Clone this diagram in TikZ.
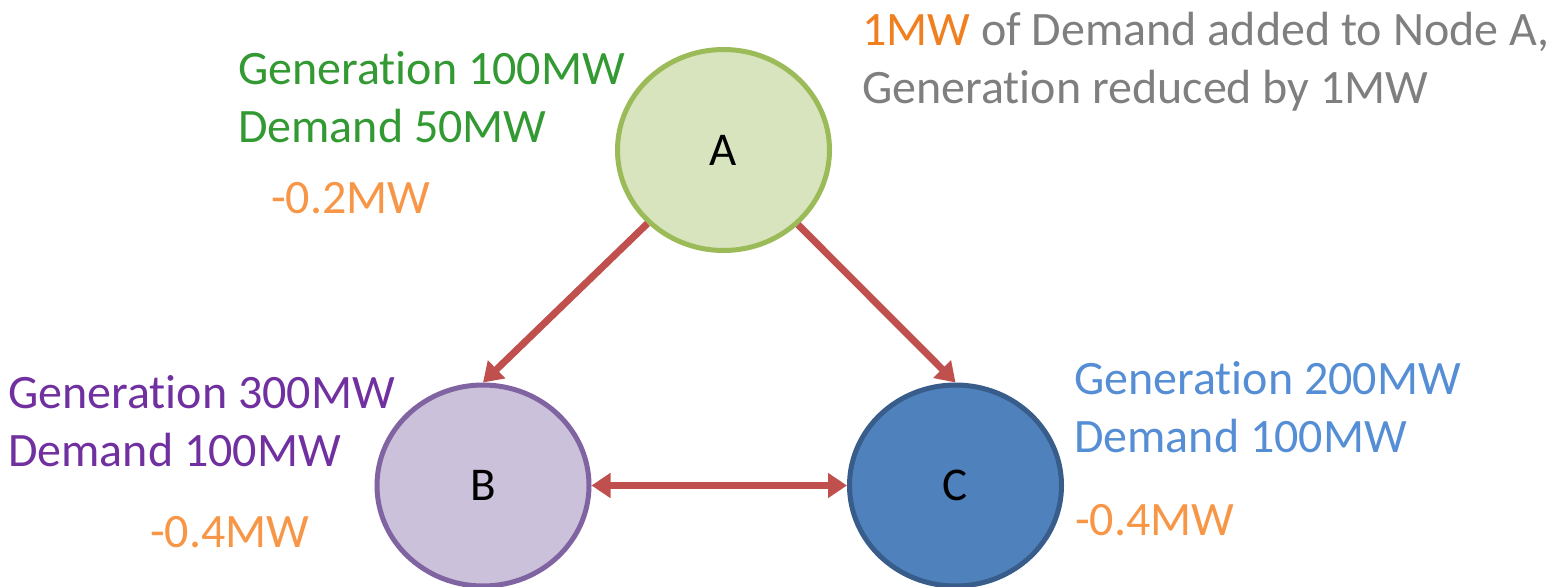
\documentclass[tikz,border=0pt]{standalone}
\usepackage{fontspec}
\setmainfont{Carlito}[Ligatures={NoCommon}]
\usetikzlibrary{arrows.meta,shapes.geometric}

\definecolor{nodeAfill}{HTML}{D7E4BD}
\definecolor{nodeAline}{HTML}{9BBB59}
\definecolor{nodeBfill}{HTML}{CCC1DA}
\definecolor{nodeBline}{HTML}{8064A2}
\definecolor{nodeCfill}{HTML}{4F81BD}
\definecolor{nodeCline}{HTML}{385D8A}
\definecolor{flowred}{HTML}{C0504D}
\definecolor{txtgreen}{HTML}{339933}
\definecolor{txtpurple}{HTML}{7030A0}
\definecolor{txtblue}{HTML}{558ED5}
\definecolor{txtorange}{HTML}{F79646}
\definecolor{txtorangedark}{HTML}{F07F20}
\definecolor{txtgray}{HTML}{7F7F7F}

\tikzset{
  bus/.style={ellipse, draw, line width=5pt, minimum width=212pt,
    minimum height=201pt, inner sep=0pt, font=\fontsize{47}{56}\selectfont},
  label/.style={anchor=base west, inner sep=0pt, font=\fontsize{48}{58}\selectfont},
  flow/.style={draw=flowred, line width=7pt,
    -{Triangle[length=19pt,width=24pt]}},
  flowboth/.style={draw=flowred, line width=7pt,
    {Triangle[length=19pt,width=24pt]}-{Triangle[length=19pt,width=24pt]}}
}

\begin{document}
\begin{tikzpicture}[x=1pt,y=-1pt]
  \useasboundingbox (0,0) rectangle (1554,586);

  % buses
  \node[bus, fill=nodeAfill, draw=nodeAline] (A) at (723.5,150) {A};
  \node[bus, fill=nodeBfill, draw=nodeBline] (B) at (483,485.5) {B};
  \node[bus, fill=nodeCfill, draw=nodeCline] (C) at (955.5,485.5) {C};

  % power flows
  \draw[flow] (A) -- (B.north);
  \draw[flow] (A) -- (C.north);
  \draw[flowboth] (B.east) -- (C.west);

  % node A annotations
  \node[label, txtgreen] (genA) at (238,84) {Generation 100MW};
  \node[label, txtgreen] (demA) at (238,142) {Demand 50MW};
  \node[label, txtorange] (dA) at (271,213) {-0.2MW};

  % node B annotations
  \node[label, txtpurple] (genB) at (8,408) {Generation 300MW};
  \node[label, txtpurple] (demB) at (8,466) {Demand 100MW};
  \node[label, txtorange] (dB) at (150,547) {-0.4MW};

  % node C annotations
  \node[label, txtblue] (genC) at (1074,394) {Generation 200MW};
  \node[label, txtblue] (demC) at (1074,452) {Demand 100MW};
  \node[label, txtorange] (dC) at (1075,535) {-0.4MW};

  % scenario note
  \node[label, txtgray] (note1) at (862,46)
    {\textcolor{txtorangedark}{1MW} of Demand added to Node A,};
  \node[label, txtgray] (note2) at (862,103) {Generation reduced by 1MW};
\end{tikzpicture}
\end{document}
